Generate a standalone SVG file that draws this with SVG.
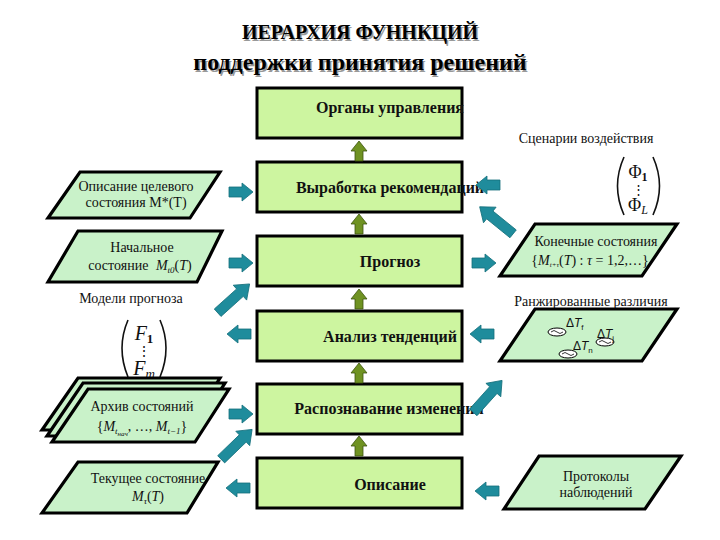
<svg xmlns="http://www.w3.org/2000/svg" width="720" height="540" viewBox="0 0 720 540" font-family="'Liberation Serif','Times New Roman',Times,serif">
<defs>
<style>
.box{fill:#cdf5a0;stroke:#000;stroke-width:3}
.par{fill:#c9f2c9;stroke:#000;stroke-width:3.2}
.bl{font-family:'Liberation Serif','Times New Roman',Times,serif;font-weight:bold;font-size:16px;fill:#111;text-anchor:middle}
.t{font-family:'Liberation Serif','Times New Roman',Times,serif;font-size:14px;fill:#111;text-anchor:middle}
.m{font-style:italic}
.teal{fill:#1f8c9c;stroke:#15707c;stroke-width:0.8}
.green{fill:#6f9222;stroke:#3d5410;stroke-width:0.8}
.paren{fill:none;stroke:#111;stroke-width:1.6}
</style>
<path id="ta" d="M-12,-5 H1 V-9 L12,0 L1,9 V5 H-12 Z"/>
<path id="td" d="M-22,-5 H8 V-10 L21,0 L8,10 V5 H-22 Z"/>
<path id="ga" d="M-4,10 V0 H-8 L0,-10 L8,0 H4 V10 Z"/>
</defs>
<rect width="720" height="540" fill="#fff"/>

<g id="title">
<text x="361.5" y="40.5" font-weight="bold" font-size="20" text-anchor="middle" fill="#999">ИЕРАРХИЯ ФУННКЦИЙ</text>
<text x="360" y="39" font-weight="bold" font-size="20" text-anchor="middle" fill="#000">ИЕРАРХИЯ ФУННКЦИЙ</text>
<text x="361.5" y="71.5" font-weight="bold" font-size="24" text-anchor="middle" fill="#999">поддержки принятия решений</text>
<text x="360" y="70" font-weight="bold" font-size="24" text-anchor="middle" fill="#000">поддержки принятия решений</text>
</g>

<g id="n-organy"><rect class="box" x="257" y="88" width="205" height="50"/><text class="bl" x="390" y="113">Органы управления</text></g>
<g id="n-vyrabotka"><rect class="box" x="257" y="162" width="205" height="50"/><text class="bl" x="390" y="193">Выработка рекомендаций</text></g>
<g id="n-prognoz"><rect class="box" x="257" y="236" width="205" height="50"/><text class="bl" x="390" y="267">Прогноз</text></g>
<g id="n-analiz"><rect class="box" x="257" y="311" width="205" height="50"/><text class="bl" x="390" y="342">Анализ тенденций</text></g>
<g id="n-raspozn"><rect class="box" x="257" y="384" width="205" height="50"/><text class="bl" x="389" y="414">Распознавание изменений</text></g>
<g id="n-opisanie"><rect class="box" x="257" y="458" width="205" height="50"/><text class="bl" x="390" y="490">Описание</text></g>

<g id="n-cel">
<polygon class="par" points="80,172 220,172 190,218 48,218"/>
<text class="t" x="136" y="191">Описание целевого</text>
<text class="t" x="136" y="207">состояния M*(T)</text>
</g>
<g id="n-nach">
<polygon class="par" points="78,231 222,231 197,282 48,282"/>
<text class="t" x="142" y="252">Начальное</text>
<text class="t" x="140" y="270">состояние <tspan class="m" dx="4">M</tspan><tspan class="m" font-size="9" dy="3">t0</tspan><tspan dy="-3">(</tspan><tspan class="m">T</tspan>)</text>
</g>
<g id="n-modeli">
<text class="t" x="131" y="303">Модели прогноза</text>
<path class="paren" d="M128,320 Q116,348 128,377"/>
<path class="paren" d="M160,320 Q172,348 160,377"/>
<text class="m" x="144" y="340" font-size="20" text-anchor="middle" fill="#111">F<tspan font-size="13" dy="3" font-style="normal" font-weight="bold">1</tspan></text>
<text x="144" y="356" font-size="14" text-anchor="middle" fill="#111">⋮</text>
<text class="m" x="144" y="375" font-size="20" text-anchor="middle" fill="#111">F<tspan font-size="13" dy="3">m</tspan></text>
</g>
<g id="n-arhiv">
<polygon class="par" points="78,378 220,378 187,430 42,430"/>
<polygon class="par" points="83,383 225,383 191,436 47,436"/>
<polygon class="par" points="88,389 229,389 195,442 52,442"/>
<text class="t" x="142" y="411">Архив состояний</text>
<text class="t" x="142" y="431">{<tspan class="m">M</tspan><tspan class="m" font-size="9" dy="3">t</tspan><tspan class="m" font-size="7" dy="2">нач</tspan><tspan dy="-5">, …, </tspan><tspan class="m">M</tspan><tspan class="m" font-size="9" dy="3">t−1</tspan><tspan dy="-3">}</tspan></text>
</g>
<g id="n-tek">
<polygon class="par" points="78,462 218,462 187,513 42,513"/>
<text class="t" x="148" y="483">Текущее состояние</text>
<text class="t" x="148" y="501"><tspan class="m">M</tspan><tspan class="m" font-size="9" dy="3">τ</tspan><tspan dy="-3">(</tspan><tspan class="m">T</tspan>)</text>
</g>

<g id="n-scen">
<text class="t" x="586" y="143">Сценарии воздействия</text>
<path class="paren" d="M624,157 Q611,186 624,215"/>
<path class="paren" d="M653,157 Q666,186 653,215"/>
<text x="638" y="178" font-size="18" text-anchor="middle" fill="#111">Φ<tspan font-size="12" dy="3" font-weight="bold">1</tspan></text>
<text x="638" y="194" font-size="13" text-anchor="middle" fill="#111">⋮</text>
<text x="638" y="211" font-size="18" text-anchor="middle" fill="#111">Φ<tspan font-size="12" dy="3" font-style="italic">L</tspan></text>
</g>
<g id="n-kon">
<polygon class="par" points="535,224 677,224 642,276 500,276"/>
<text class="t" x="596" y="246">Конечные состояния</text>
<text class="t" x="590" y="265" font-size="10">{<tspan class="m">M</tspan><tspan class="m" font-size="7" dy="2">t+τ</tspan><tspan dy="-2">(</tspan><tspan class="m">T</tspan>) : <tspan class="m">τ</tspan> = 1,2,…}</text>
</g>
<g id="n-rang">
<text class="t" x="591" y="306">Ранжированные различия</text>
<polygon class="par" points="535,309 677,309 642,361 500,361"/>
<ellipse cx="557" cy="332" rx="9" ry="4" fill="#fff" stroke="#000" stroke-width="1"/>
<path d="M551,332 q3,-3 6,0 t6,0" fill="none" stroke="#000" stroke-width="0.8"/>
<ellipse cx="605" cy="342" rx="9" ry="4" fill="#fff" stroke="#000" stroke-width="1"/>
<path d="M599,342 q3,-3 6,0 t6,0" fill="none" stroke="#000" stroke-width="0.8"/>
<ellipse cx="568" cy="354" rx="9" ry="4" fill="#fff" stroke="#000" stroke-width="1"/>
<path d="M562,354 q3,-3 6,0 t6,0" fill="none" stroke="#000" stroke-width="0.8"/>
<text x="566" y="327" font-family="'Liberation Sans',Arial,sans-serif" font-size="12" fill="#111">Δ<tspan font-style="italic">T</tspan><tspan font-size="8" dy="3">f</tspan></text>
<text x="597" y="338" font-family="'Liberation Sans',Arial,sans-serif" font-size="12" fill="#111">Δ<tspan font-style="italic">T</tspan><tspan font-size="8" dy="3">j</tspan></text>
<text x="573" y="350" font-family="'Liberation Sans',Arial,sans-serif" font-size="12" fill="#111">Δ<tspan font-style="italic">T</tspan><tspan font-size="8" dy="3">n</tspan></text>
</g>
<g id="n-prot">
<polygon class="par" points="539,456 681,456 645,509 504,509"/>
<text class="t" x="596" y="481">Протоколы</text>
<text class="t" x="596" y="497">наблюдений</text>
</g>

<g id="connectors">
<use href="#ga" class="green" transform="translate(359,151)"/>
<use href="#ga" class="green" transform="translate(359,224)"/>
<use href="#ga" class="green" transform="translate(359,299)"/>
<use href="#ga" class="green" transform="translate(359,373)"/>
<use href="#ga" class="green" transform="translate(359,446)"/>

<use href="#ta" class="teal" transform="translate(241,192)"/>
<use href="#ta" class="teal" transform="translate(241,263)"/>
<use href="#td" class="teal" transform="translate(234,298) rotate(-42)"/>
<use href="#ta" class="teal" transform="translate(239,334) rotate(180)"/>
<use href="#ta" class="teal" transform="translate(241,414)"/>
<use href="#td" class="teal" transform="translate(237,444) rotate(-44)"/>
<use href="#ta" class="teal" transform="translate(238,488) rotate(180)"/>

<use href="#ta" class="teal" transform="translate(488,185) rotate(180)"/>
<use href="#td" class="teal" transform="translate(496,220) rotate(-141)"/>
<use href="#ta" class="teal" transform="translate(484,263)"/>
<use href="#ta" class="teal" transform="translate(482,334) rotate(180)"/>
<use href="#td" class="teal" transform="translate(488,396) rotate(-48)"/>
<use href="#ta" class="teal" transform="translate(487,491) rotate(180)"/>
</g>
</svg>
